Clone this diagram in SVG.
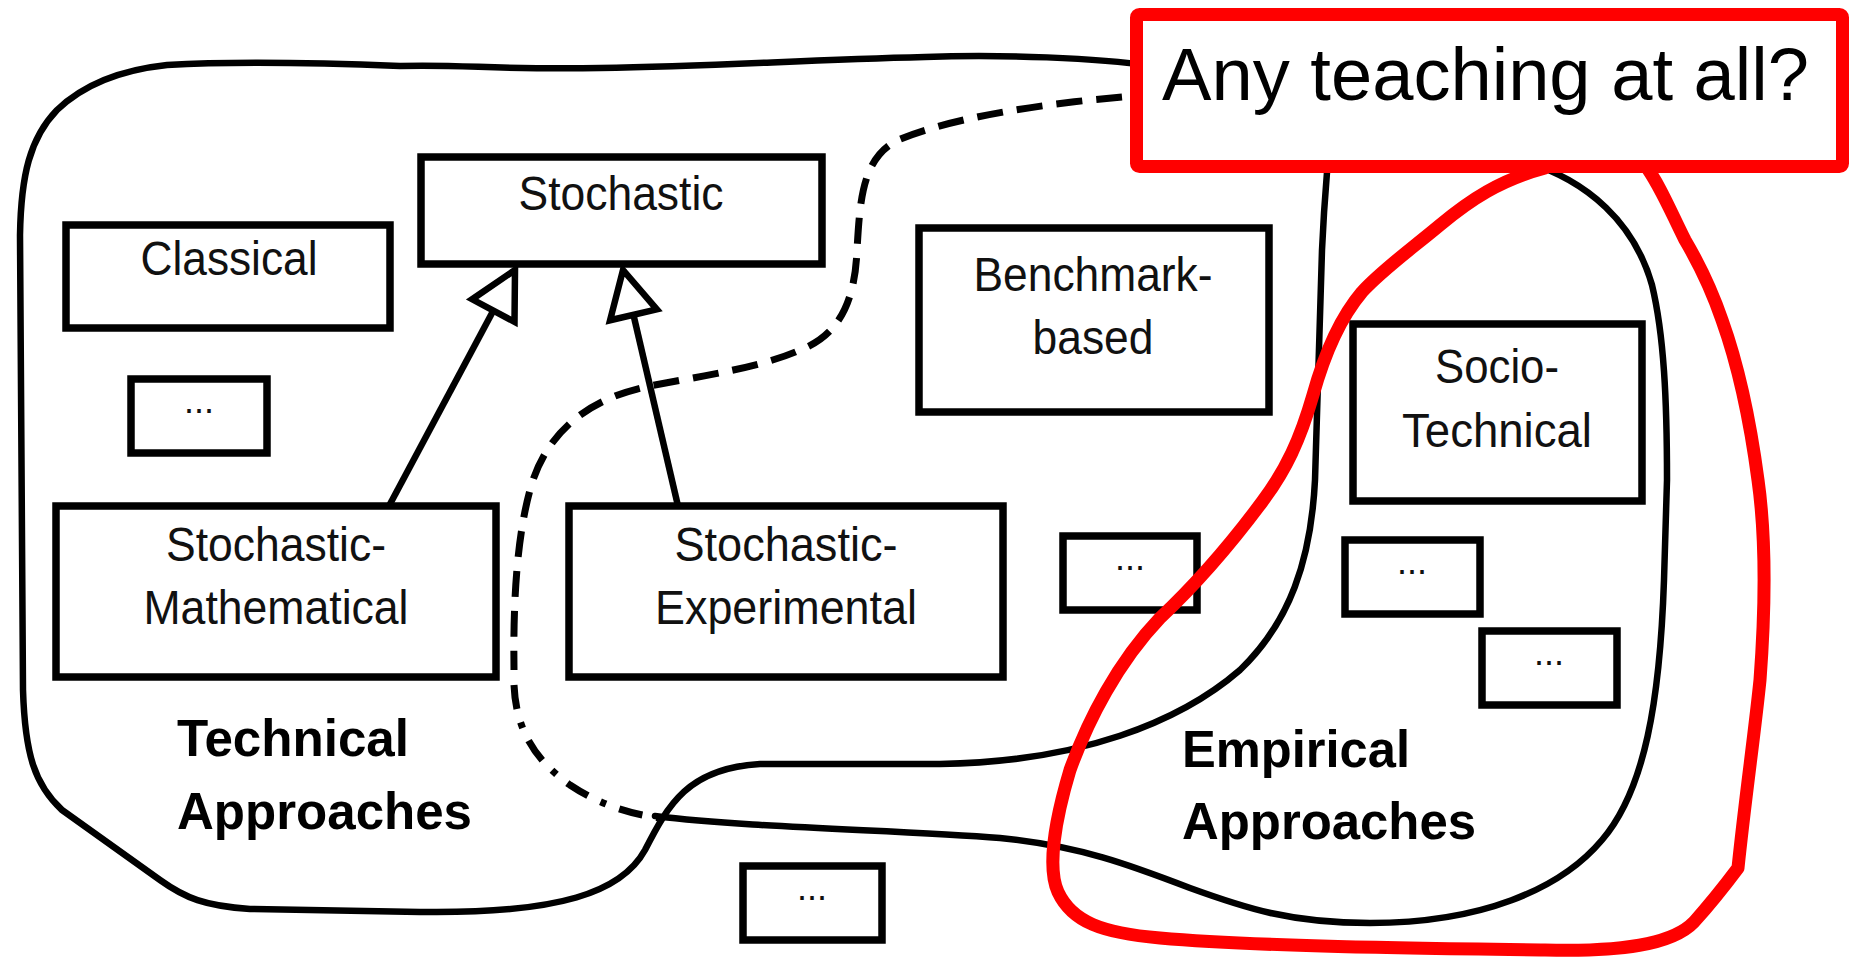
<svg xmlns="http://www.w3.org/2000/svg" width="1849" height="963" viewBox="0 0 1849 963">
<style>
.bg{fill:#ffffff}
.blob{fill:none;stroke:#000;stroke-width:6.5;stroke-linecap:round;stroke-linejoin:round}
.dash{fill:none;stroke:#000;stroke-width:7;stroke-dasharray:26 14}
.dashdot{fill:none;stroke:#000;stroke-width:7;stroke-dasharray:24 14 6 14}
.box{fill:#ffffff;stroke:#000;stroke-width:7.5}
.lbl{font-family:"Liberation Sans",Arial,Helvetica,sans-serif;font-size:48px;fill:#111;text-anchor:middle}
.dots{font-family:"Liberation Sans",Arial,Helvetica,sans-serif;font-size:36px;fill:#111;text-anchor:middle}
.bold{font-family:"Liberation Sans",Arial,Helvetica,sans-serif;font-size:52px;font-weight:bold;fill:#000}
.conn{fill:none;stroke:#000;stroke-width:6.5}
.red{fill:none;stroke:#ff0000;stroke-width:13;stroke-linecap:round;stroke-linejoin:round}
.redbox{fill:#ffffff;stroke:#ff0000;stroke-width:13}
.big{font-family:"Liberation Sans",Arial,Helvetica,sans-serif;font-size:74px;fill:#000}
</style>
<defs>
<marker id="tri" markerUnits="userSpaceOnUse" markerWidth="70" markerHeight="70" viewBox="-60 -35 70 70" refX="0" refY="0" orient="auto" overflow="visible">
<path d="M0,0 L-46,-24 L-46,24 Z" fill="#fff" stroke="#000" stroke-width="6.5"/>
</marker>
</defs>
<rect class="bg" x="0" y="0" width="1849" height="963"/>

<g id="regions">
<path id="technical-region" class="blob" d="M1150,66 C1100,58 1000,54 925,57 C800,60 720,66 600,68 C500,70 460,64 400,66 C300,62 220,62 167,65 C120,70 82,86 57,110 C30,138 21,175 20,235 L23,690 C25,755 35,785 62,810 L160,880 C185,898 205,906 250,909 L420,912 C560,914 622,892 645,850 C668,805 688,768 760,764 L940,764 C1080,762 1180,722 1240,670 C1290,622 1311,560 1315,480 L1322,250 C1324,205 1326,185 1328,160"/>
<path id="empirical-region" class="blob" d="M1520,160 C1590,180 1635,225 1652,285 C1664,335 1667,400 1667,480 L1664,580 C1660,700 1645,790 1602,840 C1560,890 1480,923 1370,923 C1290,923 1245,908 1190,888 C1130,865 1080,846 1000,838 C900,830 750,828 655,816"/>
<path id="boundary-dashed" class="dash" d="M1122,97 C1040,104 950,118 898,140 C862,158 860,200 857,250 C855,300 840,335 800,350 C760,368 700,376 650,386 C590,398 550,430 533,480 C517,530 513,600 514,670"/>
<path id="boundary-dashdot" class="dashdot" d="M514,685 C516,730 535,760 570,785 C600,805 630,814 660,818"/>
</g>

<g id="node-stochastic"><rect class="box" x="421" y="157" width="401" height="107"/><text class="lbl" x="621" y="210" textLength="205" lengthAdjust="spacingAndGlyphs">Stochastic</text></g>
<g id="node-classical"><rect class="box" x="66" y="225" width="324" height="103"/><text class="lbl" x="229" y="275" textLength="177" lengthAdjust="spacingAndGlyphs">Classical</text></g>
<g id="node-dots1"><rect class="box" x="131" y="379" width="136" height="74"/><text class="dots" x="199" y="413">...</text></g>
<g id="node-stoch-math"><rect class="box" x="56" y="506" width="440" height="171"/><text class="lbl" x="276" y="561" textLength="220" lengthAdjust="spacingAndGlyphs">Stochastic-</text><text class="lbl" x="276" y="624" textLength="265" lengthAdjust="spacingAndGlyphs">Mathematical</text></g>
<g id="node-stoch-exp"><rect class="box" x="569" y="506" width="434" height="171"/><text class="lbl" x="786" y="561" textLength="223" lengthAdjust="spacingAndGlyphs">Stochastic-</text><text class="lbl" x="786" y="624" textLength="262" lengthAdjust="spacingAndGlyphs">Experimental</text></g>
<g id="node-benchmark"><rect class="box" x="919" y="228" width="350" height="184"/><text class="lbl" x="1093" y="291" textLength="239" lengthAdjust="spacingAndGlyphs">Benchmark-</text><text class="lbl" x="1093" y="354" textLength="121" lengthAdjust="spacingAndGlyphs">based</text></g>
<g id="node-dots2"><rect class="box" x="1063" y="536" width="134" height="74"/><text class="dots" x="1130" y="570">...</text></g>
<g id="node-socio"><rect class="box" x="1353" y="324" width="289" height="177"/><text class="lbl" x="1497" y="383" textLength="124" lengthAdjust="spacingAndGlyphs">Socio-</text><text class="lbl" x="1497" y="447" textLength="190" lengthAdjust="spacingAndGlyphs">Technical</text></g>
<g id="node-dots3"><rect class="box" x="1345" y="540" width="135" height="74"/><text class="dots" x="1412" y="574">...</text></g>
<g id="node-dots4"><rect class="box" x="1482" y="631" width="135" height="74"/><text class="dots" x="1549" y="665">...</text></g>
<g id="node-dots5"><rect class="box" x="743" y="866" width="139" height="74"/><text class="dots" x="812" y="900">...</text></g>

<g id="label-technical"><text class="bold" x="177" y="756" textLength="232" lengthAdjust="spacingAndGlyphs">Technical</text><text class="bold" x="177" y="829" textLength="295" lengthAdjust="spacingAndGlyphs">Approaches</text></g>
<g id="label-empirical"><text class="bold" x="1182" y="767" textLength="228" lengthAdjust="spacingAndGlyphs">Empirical</text><text class="bold" x="1182" y="839" textLength="294" lengthAdjust="spacingAndGlyphs">Approaches</text></g>

<g id="connectors">
<line class="conn" x1="389" y1="506" x2="515" y2="270" marker-end="url(#tri)"/>
<line class="conn" x1="678" y1="506" x2="623" y2="270" marker-end="url(#tri)"/>
</g>

<g id="annotation">
<path id="red-lasso" class="red" d="M1545,168 C1500,180 1470,200 1440,225 C1410,250 1382,270 1362,292 C1340,318 1325,352 1313,395 C1300,440 1286,470 1262,502 C1230,545 1192,588 1160,618 C1118,662 1088,720 1070,770 C1055,820 1047,868 1058,892 C1072,922 1102,933 1160,938 C1250,946 1400,948 1545,950 C1620,952 1672,945 1694,922 C1712,902 1726,884 1738,868 C1745,800 1755,730 1760,680 C1766,600 1765,530 1758,480 C1750,420 1740,370 1722,320 C1710,285 1698,262 1685,240 C1670,210 1660,185 1645,165"/>
<g id="node-question"><rect class="redbox" x="1136.5" y="14.5" width="706" height="152" rx="3"/><text class="big" x="1162" y="100" textLength="647" lengthAdjust="spacingAndGlyphs">Any teaching at all?</text></g>
</g>
</svg>
